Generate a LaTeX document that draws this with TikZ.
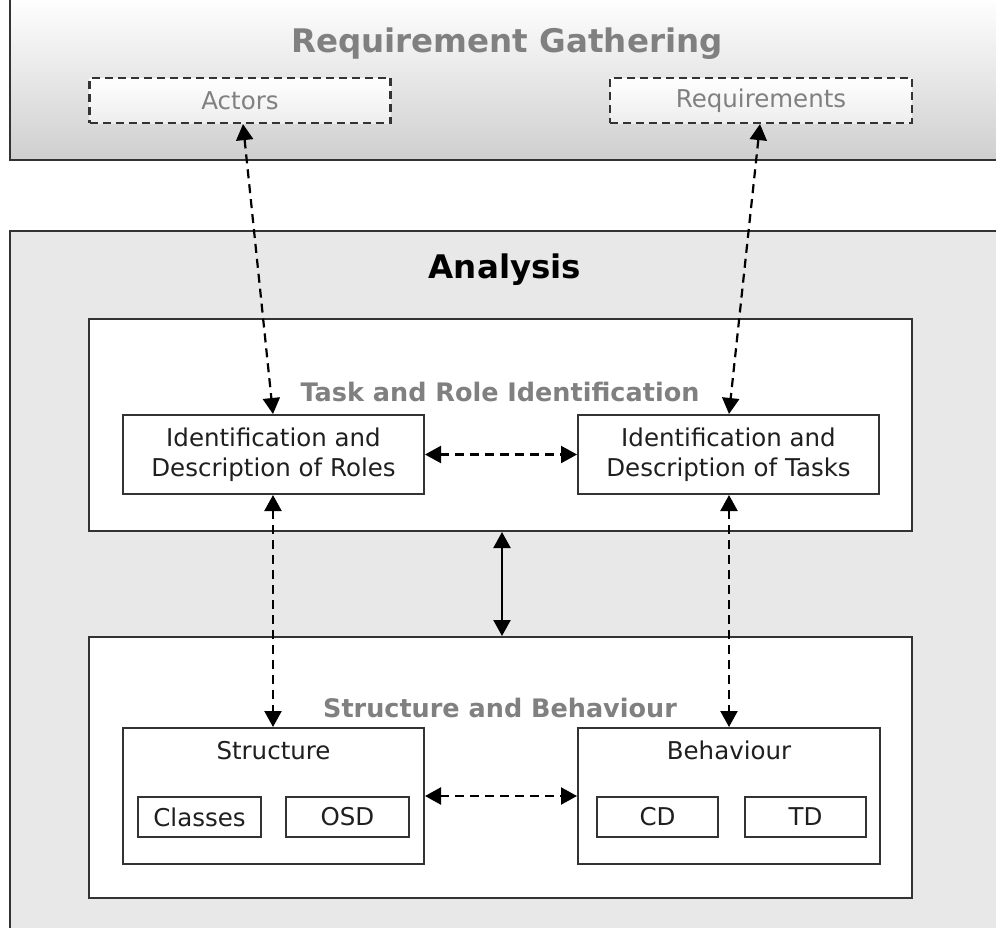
\documentclass[tikz,border=0pt]{standalone}
\usepackage{fontspec}
\setmainfont{DejaVu Sans}
\usetikzlibrary{arrows.meta}

\definecolor{edge}{HTML}{333333}
\definecolor{greytxt}{HTML}{808080}
\definecolor{panelfill}{HTML}{E8E8E8}
\definecolor{gradbot}{HTML}{CFCFCF}
\definecolor{srcbot}{HTML}{EDEDED}

\tikzset{
  box/.style={draw=edge, line width=2pt, fill=white, rectangle, inner sep=0pt},
  srcbox/.style={draw=edge, line width=2.2pt, dash pattern=on 8pt off 5pt,
    rectangle, inner sep=0pt, top color=white, bottom color=srcbot,
    text=greytxt, font=\fontsize{24.5}{30}\selectfont},
  body/.style={font=\fontsize{24.5}{30}\selectfont, text=black!88, align=center},
  heading/.style={font=\bfseries\fontsize{25.5}{30}\selectfont, text=greytxt, anchor=base},
  bigtitle/.style={font=\bfseries\fontsize{32.5}{38}\selectfont, anchor=base},
  tip/.tip={Triangle[length=16pt,width=17pt]},
  link/.style={draw=black, line width=2.2pt, tip-tip},
  dlink/.style={link, dash pattern=on 9pt off 6pt},
}

\begin{document}
\begin{tikzpicture}[x=1pt,y=-1pt]
\clip (0,0) rectangle (996,927);
\fill[white] (0,0) rectangle (996,927);

% Requirement Gathering panel
\path[top color=white, bottom color=gradbot] (10,-4) rectangle (1010,160);
\draw[edge, line width=2pt] (10,-4) -- (10,160) -- (1010,160);
\node[bigtitle, text=greytxt] (rgtitle) at (507,52) {Requirement Gathering};
\node[srcbox, minimum width=301pt, minimum height=45pt] (actors) at (240,100.5) {Actors};
\node[srcbox, minimum width=302pt, minimum height=45pt] (reqs) at (761,100.5) {Requirements};

% Analysis panel
\draw[edge, line width=2pt, fill=panelfill] (10,940) -- (10,231) -- (1010,231) -- (1010,940);
\node[bigtitle, text=black] (antitle) at (505,278) {Analysis};

% Task and Role Identification
\node[box, minimum width=823pt, minimum height=212pt] (upper) at (500.5,425) {};
\node[heading] (trtitle) at (500,401) {Task and Role Identification};
\node[box, body, minimum width=301pt, minimum height=79pt] (roles) at (273.5,454.5)
  {Identification and\\Description of Roles};
\node[box, body, minimum width=301pt, minimum height=79pt] (tasks) at (728.5,454.5)
  {Identification and\\Description of Tasks};

% Structure and Behaviour
\node[box, minimum width=823pt, minimum height=261pt] (lower) at (500.5,767.5) {};
\node[heading] (sbtitle) at (500,717) {Structure and Behaviour};

\node[box, minimum width=301pt, minimum height=136pt] (struct) at (273.5,796) {};
\node[body, anchor=base] (structlbl) at (273.5,759) {Structure};
\node[box, body, minimum width=123pt, minimum height=40pt] (classes) at (199.5,817) {Classes};
\node[box, body, minimum width=123pt, minimum height=40pt] (osd) at (347.5,817) {OSD};

\node[box, minimum width=302pt, minimum height=136pt] (behav) at (729,796) {};
\node[body, anchor=base] (behavlbl) at (729,759) {Behaviour};
\node[box, body, minimum width=121pt, minimum height=40pt] (cd) at (657.5,817) {CD};
\node[box, body, minimum width=121pt, minimum height=40pt] (td) at (805.5,817) {TD};

% Connectors
\draw[dlink] ([xshift=3pt]actors.south) -- ([xshift=-0.5pt]roles.north);
\draw[dlink] ([xshift=-1pt]reqs.south) -- ([xshift=0.5pt]tasks.north);
\draw[dlink] (roles.east) -- (tasks.west);
\draw[link] ([xshift=1.5pt]upper.south) -- ([xshift=1.5pt]lower.north);
\draw[dlink] ([xshift=-0.5pt]roles.south) -- ([xshift=-0.5pt]struct.north);
\draw[dlink] ([xshift=0.5pt]tasks.south) -- (behav.north);
\draw[dlink] (struct.east) -- (behav.west);
\end{tikzpicture}
\end{document}
